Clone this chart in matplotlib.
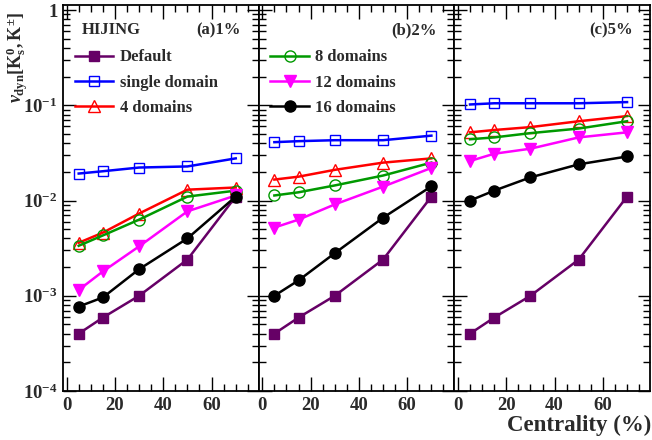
# v_dyn vs centrality for three eta windows, HIJING with domains.
import numpy as np
import matplotlib
matplotlib.use("Agg")
import matplotlib.pyplot as plt
from matplotlib.ticker import LogLocator, MultipleLocator, NullFormatter

plt.rcParams['font.family'] = ['Liberation Serif', 'DejaVu Serif']
plt.rcParams['font.weight'] = 'bold'
plt.rcParams['mathtext.fontset'] = 'custom'
plt.rcParams['mathtext.rm'] = 'Liberation Serif:bold'
plt.rcParams['mathtext.it'] = 'Liberation Serif:italic:bold'
plt.rcParams['mathtext.bf'] = 'Liberation Serif:bold'

# Data
centrality = [5, 15, 30, 50, 70]
panel_tags = ["(a)1%", "(b)2%", "(c)5%"]

default = [4.0e-4, 5.9e-4, 1.0e-3, 2.4e-3, 1.1e-2]

single_a = [0.0192, 0.0203, 0.0222, 0.0228, 0.0277]
dom4_a = [3.6e-3, 4.6e-3, 7.3e-3, 0.0130, 0.0137]
dom8_a = [3.35e-3, 4.3e-3, 6.3e-3, 0.0110, 0.0127]
dom12_a = [1.15e-3, 1.8e-3, 3.3e-3, 7.7e-3, 0.0113]
dom16_a = [7.7e-4, 9.6e-4, 1.9e-3, 4.0e-3, 0.0110]

single_b = [0.041, 0.042, 0.043, 0.043, 0.048]
dom4_b = [0.0166, 0.0178, 0.021, 0.025, 0.0277]
dom8_b = [0.0113, 0.0122, 0.0144, 0.0183, 0.025]
dom12_b = [5.2e-3, 6.3e-3, 9.1e-3, 0.014, 0.022]
dom16_b = [1.0e-3, 1.45e-3, 2.8e-3, 6.6e-3, 0.0141]

single_c = [0.102, 0.105, 0.105, 0.105, 0.108]
dom4_c = [0.052, 0.055, 0.059, 0.068, 0.077]
dom8_c = [0.044, 0.046, 0.051, 0.057, 0.068]
dom12_c = [0.026, 0.031, 0.035, 0.046, 0.052]
dom16_c = [0.010, 0.0127, 0.0175, 0.024, 0.029]

panels = [
    [default, single_a, dom4_a, dom8_a, dom12_a, dom16_a],
    [default, single_b, dom4_b, dom8_b, dom12_b, dom16_b],
    [default, single_c, dom4_c, dom8_c, dom12_c, dom16_c],
]
labels = ["Default", "single domain", "4 domains", "8 domains", "12 domains", "16 domains"]

# style per series: colour, marker, filled
styles = [
    ("#660066", "s", True),
    ("#0000ff", "s", False),
    ("#ff0000", "^", False),
    ("#009900", "o", False),
    ("#ff00ff", "v", True),
    ("#000000", "o", True),
]
txt = "#2a2a2a"

fig = plt.figure(figsize=(6.52, 4.4), dpi=100)
left, right, bottom, top = 63 / 652, 650 / 652, 1 - 391 / 440, 1 - 5 / 440
w = (right - left) / 3

axes = []
for p in range(3):
    ax = fig.add_axes([left + p * w, bottom, w, top - bottom])
    axes.append(ax)
    lines = []
    for s, (col, mk, filled) in enumerate(styles):
        ln, = ax.plot(centrality, panels[p][s], color=col, lw=1.8,
                      marker=mk, markersize=8 if mk != "s" else 7.5,
                      markerfacecolor=col if filled else "none",
                      markeredgecolor=col, markeredgewidth=1.0,
                      label=labels[s])
        lines.append(ln)
    ax.set_yscale("log")
    ax.set_ylim(1e-4, 1.13)
    ax.set_xlim(-1.5, 79.5)
    ax.xaxis.set_major_locator(MultipleLocator(20))
    ax.xaxis.set_minor_locator(MultipleLocator(5))
    ax.yaxis.set_major_locator(LogLocator(base=10, numticks=10))
    ax.yaxis.set_minor_locator(LogLocator(base=10, subs=np.arange(2, 10), numticks=10))
    ax.yaxis.set_minor_formatter(NullFormatter())
    ax.tick_params(which="both", direction="in", top=True, right=True, width=1.0,
                   labelcolor=txt)
    ax.tick_params(which="major", length=10, labelsize=13.5, pad=4)
    ax.tick_params(which="minor", length=5)
    ax.tick_params(axis="y", which="major", length=9, pad=4)
    for sp in ax.spines.values():
        sp.set_linewidth(1.3)
    ax.set_xticks([0, 20, 40, 60])
    ax.set_xticklabels(["0", "20", "40", "60"])
    if p == 0:
        ax.set_yticks([1e-4, 1e-3, 1e-2, 1e-1, 1])
        ax.set_yticklabels([r"$10^{-4}$", r"$10^{-3}$", r"$10^{-2}$", r"$10^{-1}$", "1"])
    else:
        ax.tick_params(axis="y", labelleft=False)
    ax.text(0.91, 0.955, panel_tags[p], transform=ax.transAxes, ha="right", va="top",
            fontsize=12, fontweight="bold", color=txt)
    leg_kw = dict(loc="upper left", bbox_to_anchor=(0.0, 0.915), frameon=False,
                  fontsize=12, handlelength=2.3, labelspacing=0.55,
                  borderaxespad=0.3, handletextpad=0.4, labelcolor=txt)
    if p == 0:
        ax.text(0.095, 0.955, "HIJING", transform=ax.transAxes, ha="left", va="top",
                fontsize=12, fontweight="bold", color=txt)
        ax.legend(handles=lines[:3], **leg_kw)
    if p == 1:
        ax.legend(handles=lines[3:], **leg_kw)

axes[0].set_ylabel(r"$v_{\rm dyn}[{\rm K_s^0,K^{\pm}}]$", fontsize=13, color=txt)
axes[0].yaxis.set_label_coords(-0.17, 0.865)
fig.text(651 / 652, 0.008, "Centrality (%)", ha="right", va="bottom",
         fontsize=16.5, fontweight="bold", color=txt)

fig.savefig("out.png", dpi=100)
